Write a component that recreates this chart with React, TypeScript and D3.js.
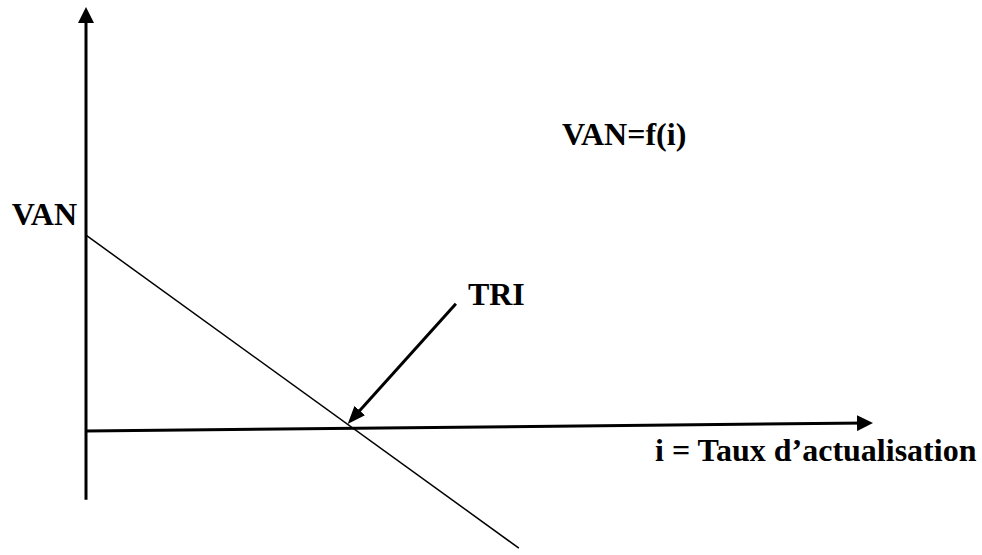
import React from "react";
import * as d3 from "d3";

// VAN as a function of the discount rate i (arbitrary units)
const rateRange = [0, 11];
const vanValues = [9.7, -5.8];

// axes in data units
const yAxisVan = [-3.4, 21];
const xAxisRate = [0, 20];
const xAxisVan = [0, 0.4];

// TRI pointer: from near the label down to the crossing
const triRate = [9.4, 6.65];
const triVan = [6.3, 0.35];

const labels = {
  van: "VAN",
  formula: "VAN=f(i)",
  tri: "TRI",
  rate: "i = Taux d\u2019actualisation",
};

const width = 982;
const height = 555;

const x = d3.scaleLinear().domain([0, 20]).range([86, 873]);
const y = d3.scaleLinear().domain([0, 21]).range([431, 7]);

const line = d3
  .line<[number, number]>()
  .x((d) => x(d[0]))
  .y((d) => y(d[1]));

// pull the end of a segment back so the arrow head sits on the tip
function shorten(p: [number, number][], px: number): [number, number][] {
  const [a, b] = p;
  const ax = x(a[0]), ay = y(a[1]);
  const bx = x(b[0]), by = y(b[1]);
  const len = Math.hypot(bx - ax, by - ay);
  const ex = bx - ((bx - ax) / len) * px;
  const ey = by - ((by - ay) / len) * px;
  return [a, [x.invert(ex), y.invert(ey)]];
}

const font = "Liberation Serif, Times New Roman, serif";

export default function App() {
  const vanLine: [number, number][] = rateRange.map((r, i) => [r, vanValues[i]]);
  const yAxis: [number, number][] = yAxisVan.map((v) => [0, v]);
  const xAxis: [number, number][] = xAxisRate.map((r, i) => [r, xAxisVan[i]]);
  const tri: [number, number][] = triRate.map((r, i) => [r, triVan[i]]);

  return (
    <svg
      width={width}
      height={height}
      style={{ position: "absolute", left: 0, top: 0, background: "#fff" }}
    >
      <defs>
        <marker
          id="head"
          viewBox="0 0 16 16"
          refX={10}
          refY={8}
          markerWidth={16}
          markerHeight={16}
          markerUnits="userSpaceOnUse"
          orient="auto"
        >
          <path d="M0,0 L16,8 L0,16 Z" fill="#000" />
        </marker>
        <marker
          id="headTri"
          viewBox="0 0 18 14"
          refX={12}
          refY={7}
          markerWidth={18}
          markerHeight={14}
          markerUnits="userSpaceOnUse"
          orient="auto"
        >
          <path d="M0,0 L18,7 L0,14 Z" fill="#000" />
        </marker>
      </defs>

      {/* y axis (VAN) */}
      <path
        d={line(shorten(yAxis, 6)) || ""}
        fill="none"
        stroke="#000"
        strokeWidth={3}
        markerEnd="url(#head)"
      />

      {/* x axis (i) */}
      <path
        d={line(shorten(xAxis, 6)) || ""}
        fill="none"
        stroke="#000"
        strokeWidth={3}
        markerEnd="url(#head)"
      />

      {/* VAN = f(i) */}
      <path d={line(vanLine) || ""} fill="none" stroke="#000" strokeWidth={1.5} />

      {/* TRI pointer */}
      <path
        d={line(shorten(tri, 6)) || ""}
        fill="none"
        stroke="#000"
        strokeWidth={3}
        markerEnd="url(#headTri)"
      />

      <g fontFamily={font} fontWeight="bold" fontSize={32} fill="#000">
        <text x={x(0) - 9} y={y(vanValues[0]) - 10} textAnchor="end">
          {labels.van}
        </text>
        <text x={562} y={145}>
          {labels.formula}
        </text>
        <text x={x(triRate[0]) + 12} y={y(triVan[0]) + 1}>
          {labels.tri}
        </text>
        <text x={655} y={461}>
          {labels.rate}
        </text>
      </g>
    </svg>
  );
}
